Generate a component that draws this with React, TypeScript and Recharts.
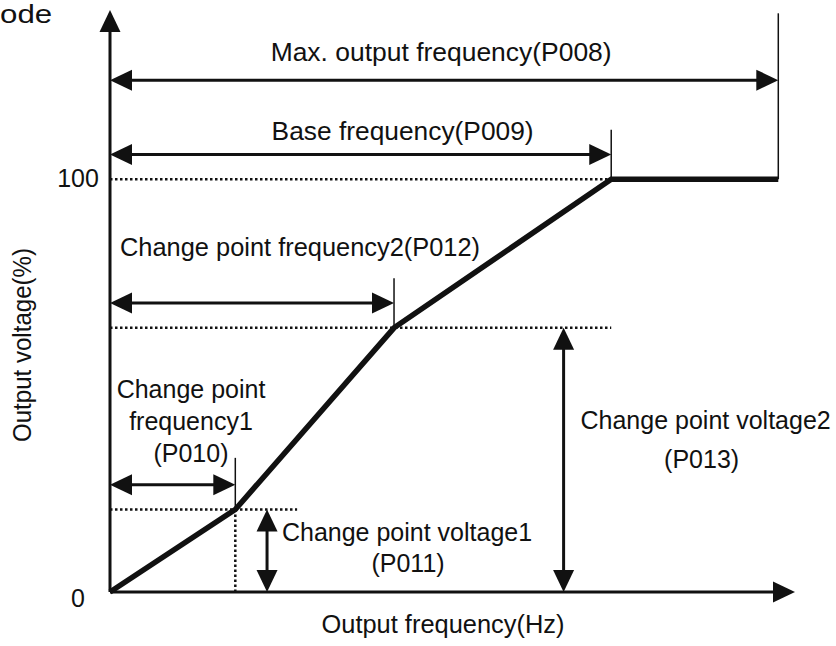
import { ComposedChart, Line, XAxis, YAxis, ReferenceLine, ReferenceDot } from "recharts";

// V/f curve: output frequency (Hz) vs output voltage (%)
const freq = [0, 15, 34, 60, 80];
const volt = [0, 20, 64, 100, 100];
const yTicks = [0, 100];

// axis extents (where the arrow tips sit)
const fEnd = 82;
const vEnd = 141;

// levels of the dimension arrows and their end ticks
const maxArrowV = 124;
const baseArrowV = 106;
const f2ArrowV = 70;
const f1ArrowV = 26;
const v1ArrowF = 18.8;
const v2ArrowF = 54.3;
const tickTops = [32.5, 76, 112, 140.2]; // f1, f2, base, max
const f1GuideEnd = 22.4;

const data = freq.map((f, i) => ({ f, v: volt[i] }));
const [, f1, f2, fBase, fMax] = freq;
const [, v1, v2, vBase] = volt;

const FONT = "'Liberation Sans', Arial, Helvetica, sans-serif";
const INK = "#111";

interface TxtProps {
  x: number;
  y: number;
  children: string;
  anchor?: "start" | "middle" | "end";
  len?: number;
}

const Txt = ({ x, y, children, anchor = "middle", len }: TxtProps) => (
  <text
    x={x}
    y={y}
    fontSize={25}
    fontFamily={FONT}
    fill={INK}
    textAnchor={anchor}
    textLength={len}
    lengthAdjust={len ? "spacingAndGlyphs" : undefined}
  >
    {children}
  </text>
);

/**
 * Line with filled arrow heads, used as a ReferenceLine shape.
 */
const arrow = (both: boolean, width = 3) => (p: any) => {
  const { x1, y1, x2, y2 } = p;
  const dx = x2 - x1;
  const dy = y2 - y1;
  const len = Math.hypot(dx, dy) || 1;
  const ux = dx / len;
  const uy = dy / len;
  const L = 22;
  const H = 10.5;
  const head = (tx: number, ty: number, dirx: number, diry: number) => {
    const bx = tx - dirx * L;
    const by = ty - diry * L;
    return `${tx},${ty} ${bx - diry * H},${by + dirx * H} ${bx + diry * H},${by - dirx * H}`;
  };
  const sx = both ? x1 + ux * (L - 2) : x1;
  const sy = both ? y1 + uy * (L - 2) : y1;
  return (
    <g>
      <line x1={sx} y1={sy} x2={x2 - ux * (L - 2)} y2={y2 - uy * (L - 2)} stroke={INK} strokeWidth={width} />
      <polygon points={head(x2, y2, ux, uy)} fill={INK} />
      {both && <polygon points={head(x1, y1, -ux, -uy)} fill={INK} />}
    </g>
  );
};

interface NoteLine {
  t: string;
  dx: number;
  dy: number;
  anchor?: "start" | "middle" | "end";
  len?: number;
}

const note = (key: string, x: number, y: number, lines: NoteLine[]) => (
  <ReferenceDot
    key={key}
    x={x}
    y={y}
    r={0}
    ifOverflow="visible"
    shape={(p: any) => (
      <g>
        {lines.map((l) => (
          <Txt key={l.t} x={p.cx + l.dx} y={p.cy + l.dy} anchor={l.anchor} len={l.len}>
            {l.t}
          </Txt>
        ))}
      </g>
    )}
  />
);

const YTick = (props: any) => {
  const { y, payload } = props;
  const v = payload.value;
  return (
    <Txt x={78} y={y + (v === 0 ? 15 : 8)}>
      {String(v)}
    </Txt>
  );
};

const seg = (a: [number, number], b: [number, number]) => [
  { x: a[0], y: a[1] },
  { x: b[0], y: b[1] },
];

const App = () => {
  const dotted = { stroke: INK, strokeWidth: 2.5, strokeDasharray: "2.5 2.5", ifOverflow: "visible" as const };
  const thin = { stroke: INK, strokeWidth: 1.5, ifOverflow: "visible" as const };

  return (
    <div style={{ position: "absolute", left: 0, top: 0, width: 836, height: 646, background: "#fff" }}>
      <div
        style={{
          position: "absolute",
          left: 0,
          top: 0,
          fontFamily: FONT,
          fontSize: 25,
          lineHeight: "29px",
          color: INK,
          transform: "scaleX(1.25)",
          transformOrigin: "0 0",
        }}
      >
        ode
      </div>
      <ComposedChart width={836} height={646} data={data} margin={{ top: 10, right: 41, bottom: 0, left: 0 }}>
        <XAxis
          type="number"
          dataKey="f"
          domain={[0, fEnd]}
          ticks={[]}
          tick={false}
          axisLine={false}
          tickLine={false}
          height={54}
          label={{
            content: (p: any) => {
              const vb = p.viewBox;
              return (
                <Txt x={vb.x + vb.width / 2 - 9.5} y={vb.y + 41} len={243}>
                  Output frequency(Hz)
                </Txt>
              );
            },
          }}
        />
        <YAxis
          type="number"
          domain={[0, vEnd]}
          ticks={yTicks}
          width={110}
          axisLine={false}
          tickLine={false}
          tickSize={0}
          tick={<YTick />}
          label={{
            content: (p: any) => {
              const vb = p.viewBox;
              const cx = vb.x + 31;
              const cy = vb.y + vb.height / 2 + 44;
              return (
                <g transform={`rotate(-90, ${cx}, ${cy})`}>
                  <Txt x={cx} y={cy} len={194}>
                    Output voltage(%)
                  </Txt>
                </g>
              );
            },
          }}
        />

        {/* dotted guide lines */}
        <ReferenceLine segment={seg([0, vBase], [fBase, vBase])} {...dotted} />
        <ReferenceLine segment={seg([0, v2], [fBase, v2])} {...dotted} />
        <ReferenceLine segment={seg([0, v1], [f1GuideEnd, v1])} {...dotted} />
        <ReferenceLine segment={seg([f1, 0], [f1, v1])} {...dotted} />

        {/* thin end ticks */}
        <ReferenceLine segment={seg([f1, v1], [f1, tickTops[0]])} {...thin} />
        <ReferenceLine segment={seg([f2, v2], [f2, tickTops[1]])} {...thin} />
        <ReferenceLine segment={seg([fBase, vBase], [fBase, tickTops[2]])} {...thin} />
        <ReferenceLine segment={seg([fMax, vBase], [fMax, tickTops[3]])} {...thin} />

        {/* axes */}
        <ReferenceLine segment={seg([0, 0], [0, vEnd])} ifOverflow="visible" shape={arrow(false, 3)} />
        <ReferenceLine segment={seg([0, 0], [fEnd, 0])} ifOverflow="visible" shape={arrow(false, 3)} />

        {/* dimension arrows */}
        <ReferenceLine segment={seg([0, maxArrowV], [fMax, maxArrowV])} ifOverflow="visible" shape={arrow(true)} />
        <ReferenceLine segment={seg([0, baseArrowV], [fBase, baseArrowV])} ifOverflow="visible" shape={arrow(true)} />
        <ReferenceLine segment={seg([0, f2ArrowV], [f2, f2ArrowV])} ifOverflow="visible" shape={arrow(true)} />
        <ReferenceLine segment={seg([0, f1ArrowV], [f1, f1ArrowV])} ifOverflow="visible" shape={arrow(true)} />
        <ReferenceLine segment={seg([v1ArrowF, 0], [v1ArrowF, v1])} ifOverflow="visible" shape={arrow(true)} />
        <ReferenceLine segment={seg([v2ArrowF, 0], [v2ArrowF, v2])} ifOverflow="visible" shape={arrow(true)} />

        <Line
          type="linear"
          dataKey="v"
          stroke={INK}
          strokeWidth={5.5}
          dot={false}
          activeDot={false}
          isAnimationActive={false}
        />

        {note("max", fMax / 2, maxArrowV, [{ t: "Max. output frequency(P008)", dx: -3, dy: -19, len: 341 }])}
        {note("base", fBase / 2, baseArrowV, [{ t: "Base frequency(P009)", dx: 42, dy: -14.5, len: 262 }])}
        {note("f2", 0, f2ArrowV, [{ t: "Change point frequency2(P012)", dx: 10, dy: -47, anchor: "start", len: 360 }])}
        {note("f1", 0, f1ArrowV, [
          { t: "Change point", dx: 81, dy: -87 },
          { t: "frequency1", dx: 81, dy: -55 },
          { t: "(P010)", dx: 81, dy: -23 },
        ])}
        {note("v1", v1ArrowF, 0, [
          { t: "Change point voltage1", dx: 140, dy: -51 },
          { t: "(P011)", dx: 141, dy: -20 },
        ])}
        {note("v2", v2ArrowF, 0, [
          { t: "Change point voltage2", dx: 142, dy: -163 },
          { t: "(P013)", dx: 138, dy: -124 },
        ])}
      </ComposedChart>
    </div>
  );
};

export default App;
